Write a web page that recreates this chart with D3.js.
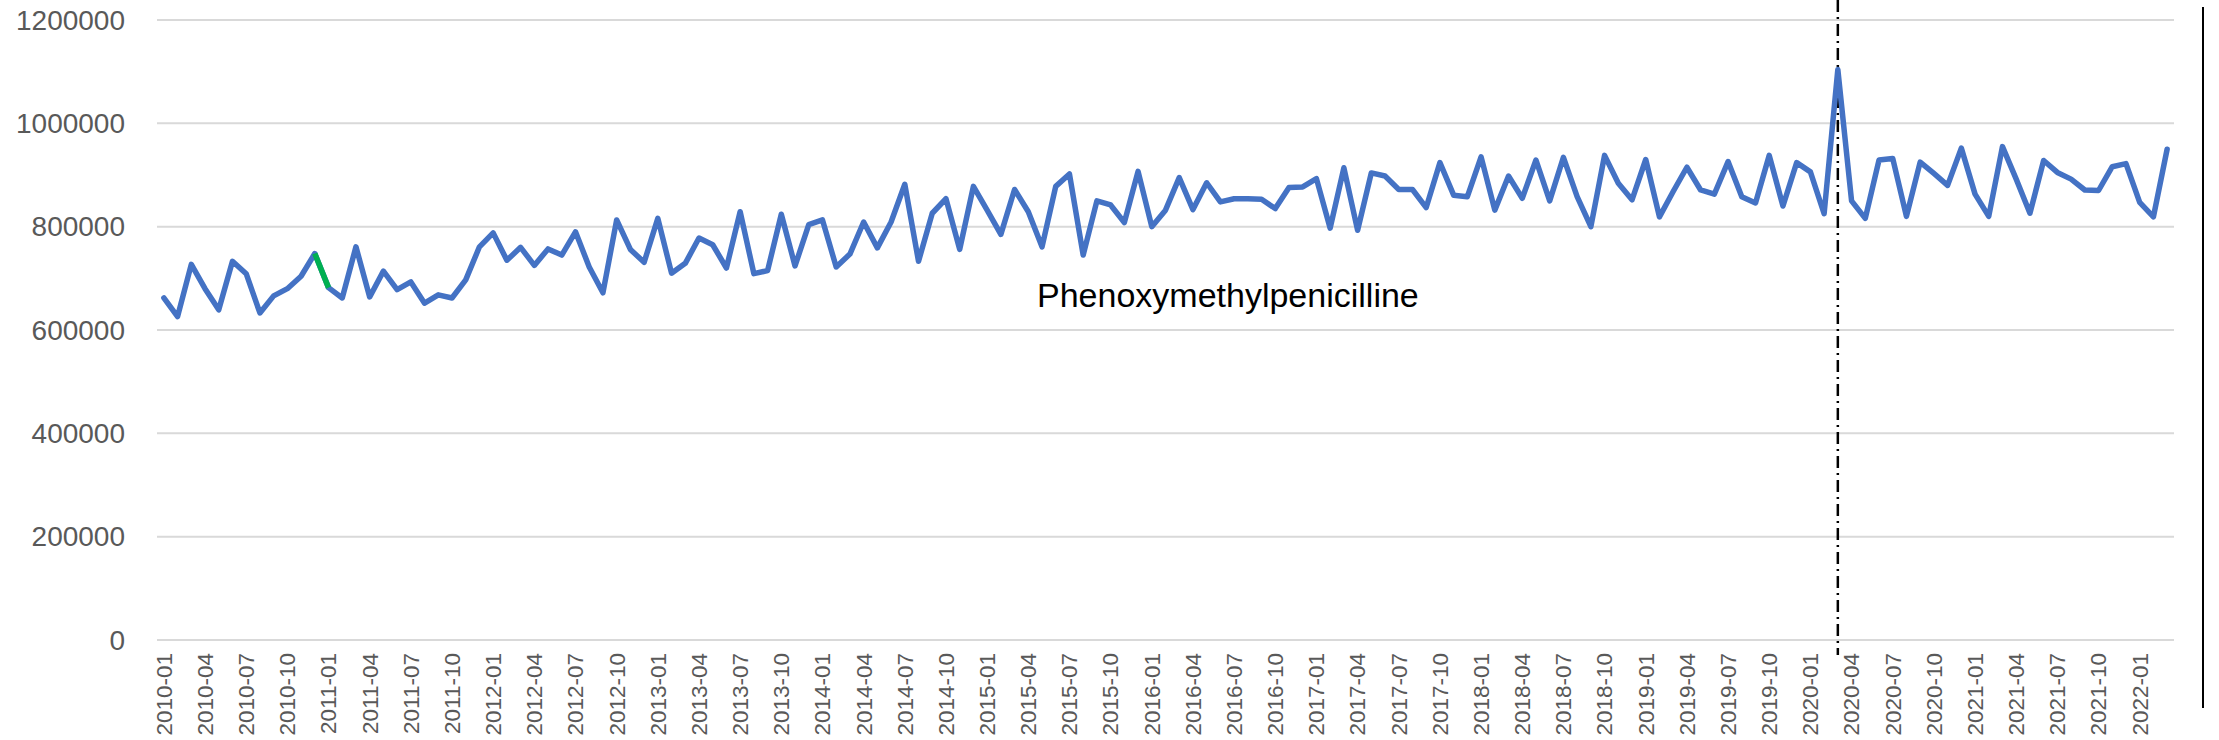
<!DOCTYPE html>
<html>
<head>
<meta charset="utf-8">
<script src="https://cdn.jsdelivr.net/npm/d3@7"></script>
<style>
  html, body { margin: 0; padding: 0; background: #fff; }
  svg { display: block; }
</style>
</head>
<body>
<svg id="chart" width="2219" height="740"></svg>
<script>
// monthly series, 2010-01 .. 2022-03
const startYear = 2010;
const values = [
  662000, 626000, 727000, 680000, 639000, 733000, 709000, 633000, 666000, 680000, 704000, 748000,
  682000, 662000, 761000, 664000, 714000, 678000, 693000, 652000, 668000, 662000, 697000, 761000,
  788000, 735000, 760000, 725000, 757000, 745000, 790000, 722000, 672000, 813000, 756000, 731000,
  816000, 710000, 729000, 778000, 765000, 720000, 829000, 709000, 715000, 824000, 724000, 804000,
  813000, 722000, 747000, 809000, 759000, 809000, 882000, 733000, 826000, 854000, 756000, 878000,
  832000, 785000, 872000, 829000, 761000, 878000, 902000, 745000, 850000, 842000, 808000, 907000,
  800000, 832000, 895000, 833000, 885000, 848000, 854000, 854000, 853000, 835000, 876000, 877000,
  893000, 797000, 914000, 793000, 904000, 898000, 872000, 872000, 837000, 924000, 861000, 858000,
  935000, 832000, 898000, 855000, 929000, 850000, 934000, 858000, 800000, 938000, 884000, 852000,
  930000, 819000, 868000, 915000, 871000, 863000, 926000, 858000, 846000, 938000, 840000, 924000,
  906000, 825000, 1104000, 850000, 816000, 929000, 932000, 820000, 925000, 903000, 880000, 952000,
  863000, 820000, 955000, 892000, 826000, 928000, 905000, 892000, 871000, 870000, 916000, 922000,
  847000, 819000, 950000
];
const months = values.map((v, i) =>
  `${startYear + Math.floor(i / 12)}-${String(i % 12 + 1).padStart(2, "0")}`);
const yTicks = [0, 200000, 400000, 600000, 800000, 1000000, 1200000];
const highlight = ["2010-12", "2011-01"];   // green segment
const markerMonth = "2020-03";               // dash-dot line
const annotation = "Phenoxymethylpenicilline";

const svg = d3.select("#chart");
const plotLeft = 157, plotRight = 2174, plotTop = 20, plotBottom = 640;

const x = d3.scaleBand().domain(months).range([plotLeft, plotRight]);
const cx = m => x(m) + x.bandwidth() / 2;
const y = d3.scaleLinear().domain([0, 1200000]).range([plotBottom, plotTop]);

// gridlines
svg.append("g")
  .selectAll("line")
  .data(yTicks)
  .join("line")
  .attr("x1", plotLeft).attr("x2", plotRight)
  .attr("y1", d => y(d)).attr("y2", d => y(d))
  .attr("stroke", "#d9d9d9")
  .attr("stroke-width", 2);

// y labels
svg.append("g")
  .selectAll("text")
  .data(yTicks)
  .join("text")
  .attr("x", 125)
  .attr("y", d => y(d))
  .attr("dy", "0.35em")
  .attr("text-anchor", "end")
  .attr("fill", "#595959")
  .style("font", "28px 'Liberation Sans', Arial, sans-serif")
  .text(d => d);

// x labels, every third month
svg.append("g")
  .selectAll("text")
  .data(months.filter((m, i) => i % 3 === 0))
  .join("text")
  .attr("transform", d => `translate(${cx(d)},653) rotate(-90)`)
  .attr("dy", "0.35em")
  .attr("text-anchor", "end")
  .attr("fill", "#595959")
  .style("font", "22.5px 'Liberation Sans', Arial, sans-serif")
  .text(d => d);

// dash-dot marker
svg.append("line")
  .attr("x1", cx(markerMonth)).attr("x2", cx(markerMonth))
  .attr("y1", 0).attr("y2", 655)
  .attr("stroke", "#000")
  .attr("stroke-width", 2.5)
  .attr("stroke-dasharray", "12,5,2,5");

// series line
const line = d3.line().x(d => cx(d.m)).y(d => y(d.v));
const pts = months.map((m, i) => ({ m, v: values[i] }));

svg.append("path")
  .datum(pts)
  .attr("d", line)
  .attr("fill", "none")
  .attr("stroke", "#4472c4")
  .attr("stroke-width", 5.5)
  .attr("stroke-linejoin", "round")
  .attr("stroke-linecap", "round");

svg.append("path")
  .datum(pts.filter(d => highlight.includes(d.m)))
  .attr("d", line)
  .attr("fill", "none")
  .attr("stroke", "#00b050")
  .attr("stroke-width", 5.5);

svg.append("text")
  .attr("x", 1037)
  .attr("y", 307)
  .attr("fill", "#000")
  .style("font", "34px 'Liberation Sans', Arial, sans-serif")
  .text(annotation);

// right border line
svg.append("line")
  .attr("x1", 2203).attr("x2", 2203)
  .attr("y1", 7).attr("y2", 708)
  .attr("stroke", "#000")
  .attr("stroke-width", 2);
</script>
</body>
</html>
